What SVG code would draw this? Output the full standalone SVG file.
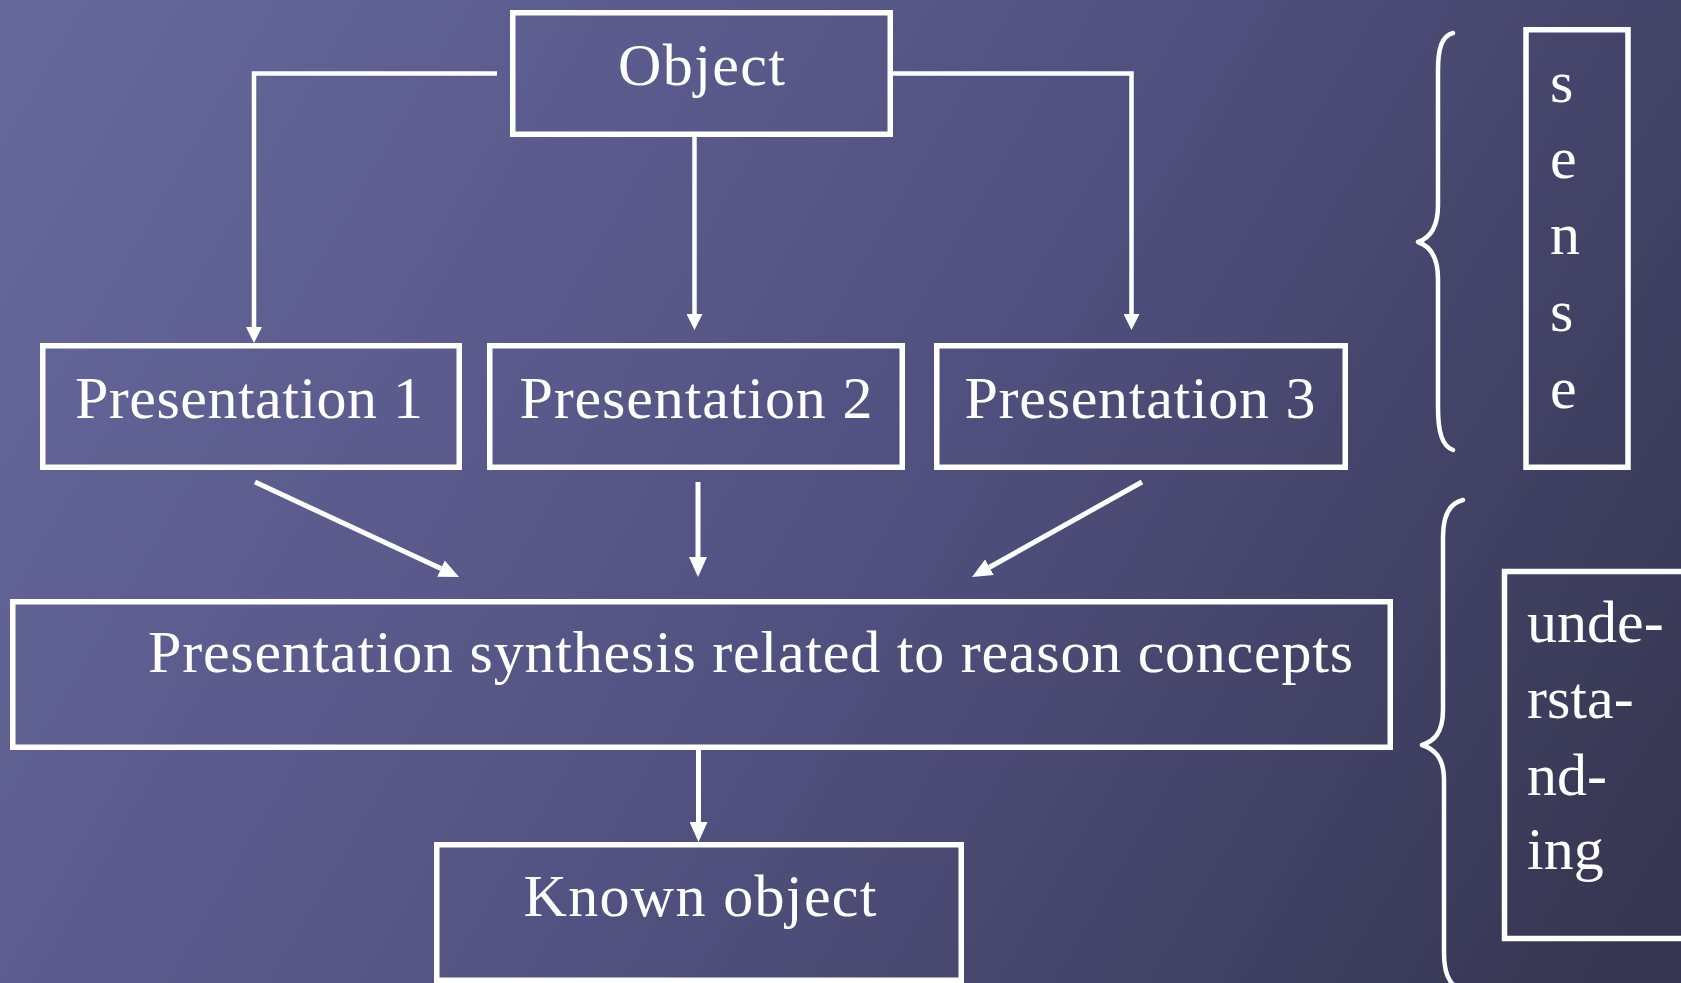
<svg xmlns="http://www.w3.org/2000/svg" width="1681" height="983" viewBox="0 0 1681 983">
  <defs>
    <linearGradient id="bg" x1="0" y1="0" x2="1681" y2="983" gradientUnits="userSpaceOnUse">
      <stop offset="0" stop-color="#67689c"/>
      <stop offset="0.5" stop-color="#525282"/>
      <stop offset="1" stop-color="#34344e"/>
    </linearGradient>
    <marker id="ahS" markerUnits="userSpaceOnUse" markerWidth="16" markerHeight="16" refX="0" refY="8" orient="auto" viewBox="0 0 16 16">
      <path d="M0,0 L16,8 L0,16 Z" fill="#ffffff"/>
    </marker>
    <marker id="ahL" markerUnits="userSpaceOnUse" markerWidth="20" markerHeight="18" refX="0" refY="9" orient="auto" viewBox="0 0 20 18">
      <path d="M0,0 L20,9 L0,18 Z" fill="#ffffff"/>
    </marker>
  </defs>
  <style>
    .box { fill: none; stroke: #ffffff; stroke-width: 5.5; }
    .lbl { font-family: "Liberation Serif", "Times New Roman", serif; font-size: 60px; fill: #ffffff; }
    .c1 { fill: none; stroke: #ffffff; stroke-width: 4.5; marker-end: url(#ahS); }
    .c2 { fill: none; stroke: #ffffff; stroke-width: 5; marker-end: url(#ahL); }
    .brace { fill: none; stroke: #ffffff; stroke-width: 4.5; stroke-linecap: round; stroke-linejoin: round; }
  </style>
  <rect x="0" y="0" width="1681" height="983" fill="url(#bg)"/>

  <g id="connectors">
    <polyline class="c1" points="497,73.5 254,73.5 254,327"/>
    <line class="c1" x1="694.5" y1="136" x2="694.5" y2="314"/>
    <polyline class="c1" points="893,73.5 1131.5,73.5 1131.5,314"/>
    <line class="c2" x1="255" y1="482" x2="440.9" y2="568.6"/>
    <line class="c2" x1="698" y1="482" x2="698" y2="557"/>
    <line class="c2" x1="1142" y1="482" x2="989.5" y2="567.2"/>
    <line class="c2" x1="698.5" y1="749" x2="698.5" y2="822"/>
  </g>

  <g id="object">
    <rect class="box" x="512.75" y="12.75" width="377.5" height="121.5"/>
    <text class="lbl" x="618" y="85" textLength="167">Object</text>
  </g>
  <g id="presentation1">
    <rect class="box" x="42.75" y="345.75" width="416.5" height="121.5"/>
    <text class="lbl" x="75" y="418" textLength="348">Presentation 1</text>
  </g>
  <g id="presentation2">
    <rect class="box" x="489.75" y="345.75" width="412.5" height="121.5"/>
    <text class="lbl" x="519.5" y="418" textLength="353">Presentation 2</text>
  </g>
  <g id="presentation3">
    <rect class="box" x="936.75" y="345.75" width="408.5" height="121.5"/>
    <text class="lbl" x="964.5" y="418" textLength="351">Presentation 3</text>
  </g>
  <g id="synthesis">
    <rect class="box" x="12.75" y="601.75" width="1377.5" height="145.5"/>
    <text class="lbl" x="148" y="672" textLength="1205">Presentation synthesis related to reason concepts</text>
  </g>
  <g id="known-object">
    <rect class="box" x="436.75" y="844.75" width="524.5" height="135.5"/>
    <text class="lbl" x="523.5" y="916" textLength="353">Known object</text>
  </g>

  <g id="sense-brace">
    <path class="brace" d="M1453,33 C1442,36 1438,48 1438,70 L1438,205 C1438,228 1430,238 1418,242 C1430,246 1438,256 1438,279 L1438,407 C1438,432 1442,446 1453,450"/>
  </g>
  <g id="sense">
    <rect class="box" x="1526" y="29.75" width="102" height="437.5"/>
    <text class="lbl" x="1550" y="102">s</text>
    <text class="lbl" x="1550" y="178">e</text>
    <text class="lbl" x="1550" y="254">n</text>
    <text class="lbl" x="1550" y="331">s</text>
    <text class="lbl" x="1550" y="408">e</text>
  </g>

  <g id="understanding-brace">
    <path class="brace" d="M1463,500 C1450,503 1443,515 1443,537 L1443,710 C1443,733 1434,741 1422,745 C1434,749 1444,757 1444,780 L1444,953 C1444,975 1450,987 1463,990"/>
  </g>
  <g id="understanding">
    <rect class="box" x="1504.5" y="571.5" width="200" height="367"/>
    <text class="lbl" x="1527" y="642">unde-</text>
    <text class="lbl" x="1527" y="718">rsta-</text>
    <text class="lbl" x="1527" y="795">nd-</text>
    <text class="lbl" x="1527" y="869">ing</text>
  </g>
</svg>
